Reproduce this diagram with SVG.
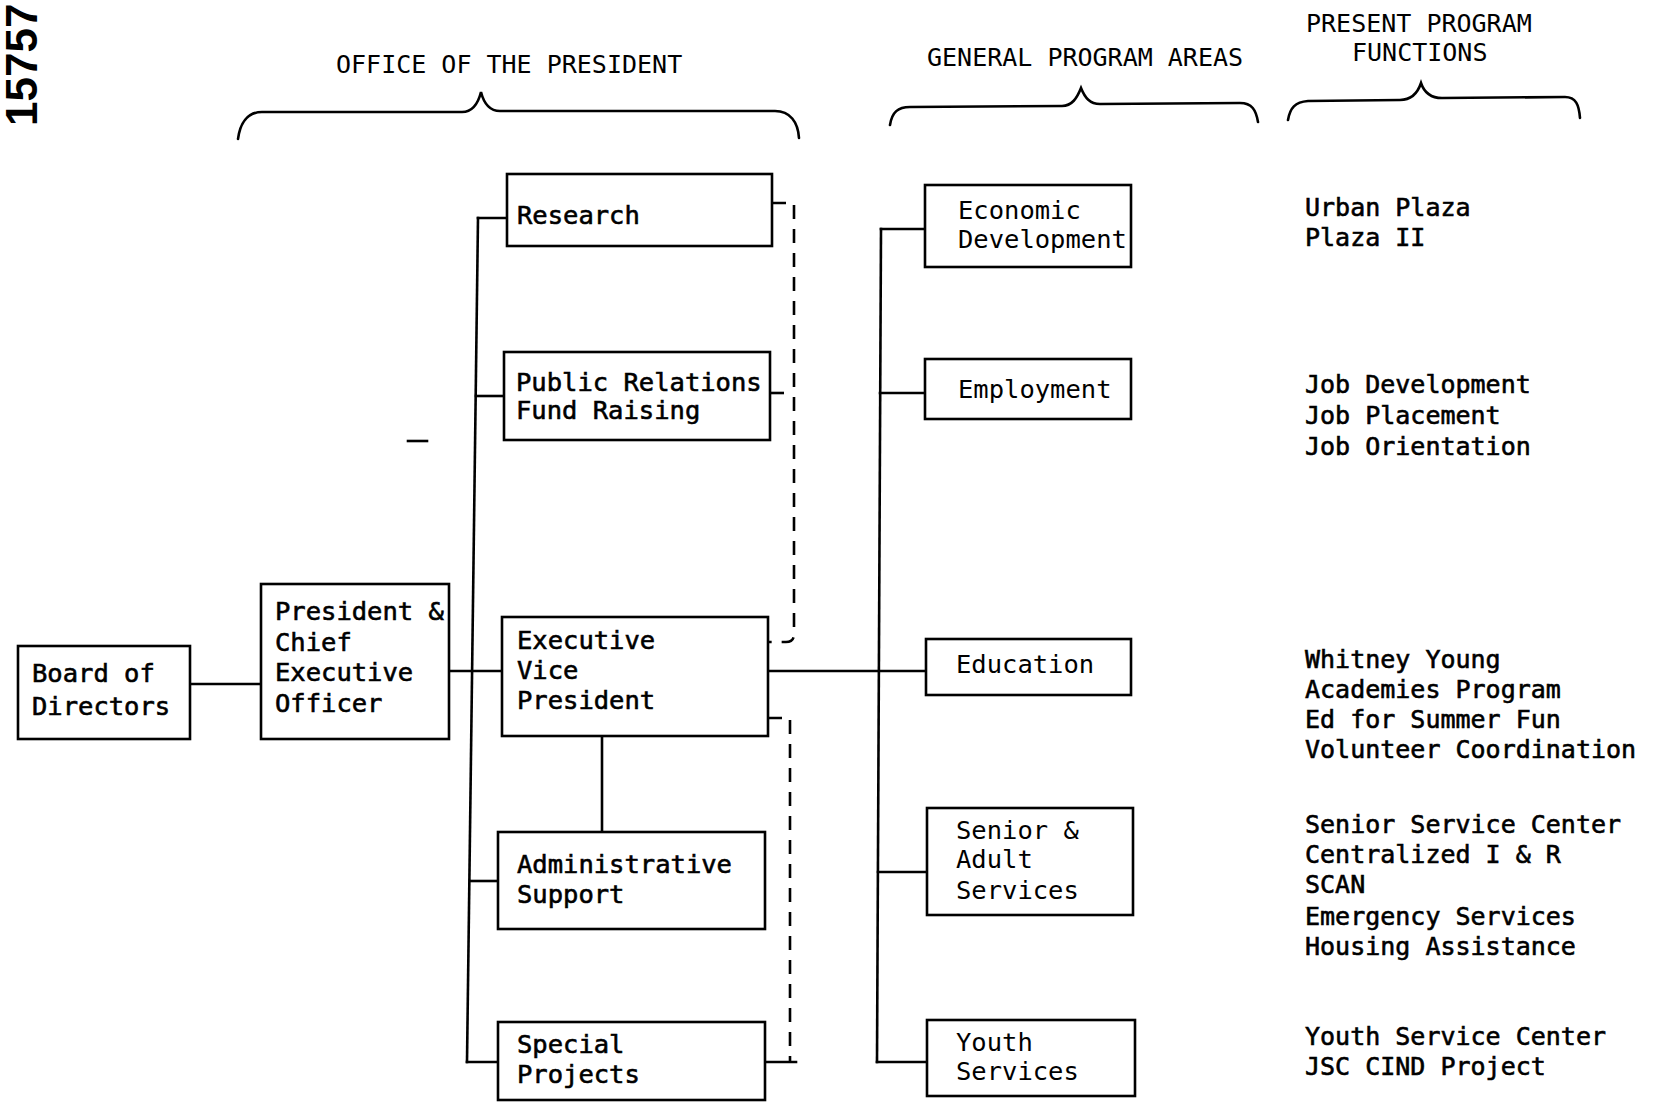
<svg xmlns="http://www.w3.org/2000/svg" width="1656" height="1106" viewBox="0 0 1656 1106">
<style>
.box{fill:#fff;stroke:#000;stroke-width:2.6}
.ln{fill:none;stroke:#000;stroke-width:2.6;stroke-linecap:square}
.ds{fill:none;stroke:#000;stroke-width:2.6;stroke-dasharray:14 10}
.br{fill:none;stroke:#000;stroke-width:2.6;stroke-linecap:round}
.b{font-family:"DejaVu Sans Mono","Liberation Mono",monospace;font-size:25.5px;fill:#000;stroke:#000;stroke-width:0.6}
.f{font-family:"DejaVu Sans Mono","Liberation Mono",monospace;font-size:25px;fill:#000;stroke:#000;stroke-width:0.6}
.l{font-family:"DejaVu Sans Mono","Liberation Mono",monospace;font-size:25.5px;fill:#000}
.h{font-family:"DejaVu Sans Mono","Liberation Mono",monospace;font-size:25px;fill:#000}
</style>
<rect width="1656" height="1106" fill="#fff"/>
<text transform="translate(37,126) rotate(-90)" font-family="Liberation Sans, sans-serif" font-weight="bold" font-size="44" fill="#000">15757</text>

<g id="headers">
<text class="h" x="336" y="73">OFFICE OF THE PRESIDENT</text>
<text class="h" x="927" y="66">GENERAL PROGRAM AREAS</text>
<text class="h" x="1306" y="32">PRESENT PROGRAM</text>
<text class="h" x="1352" y="61">FUNCTIONS</text>
<path class="br" d="M238,139 C240,124 247,112 262,112 L462,112 C472,112 478,104 481,92 C484,104 490,111 500,111 L775,111 C790,111 798,122 799,138"/>
<path class="br" d="M890,125 C892,112 898,107 910,107 L1062,106 C1072,106 1077,98 1081,88 C1085,98 1090,104 1100,104 L1240,103 C1252,103 1256,110 1258,122"/>
<path class="br" d="M1288,120 C1290,108 1295,102 1308,101 L1400,100 C1412,100 1418,92 1421,83 C1424,92 1430,98 1442,98 L1565,97 C1576,97 1579,105 1580,118"/>
</g>

<g id="connectors">
<line class="ln" x1="190" y1="684" x2="261" y2="684"/>
<line class="ln" x1="449" y1="671" x2="502" y2="671"/>
<line class="ln" x1="478" y1="218" x2="467" y2="1062"/>
<line class="ln" x1="478" y1="218" x2="507" y2="218"/>
<line class="ln" x1="476" y1="396" x2="504" y2="396"/>
<line class="ln" x1="470" y1="881" x2="498" y2="881"/>
<line class="ln" x1="467" y1="1062" x2="498" y2="1062"/>
<line class="ln" x1="602" y1="736" x2="602" y2="832"/>
<line class="ln" x1="768" y1="671" x2="926" y2="671"/>
<line class="ln" x1="881" y1="229" x2="877" y2="1062"/>
<line class="ln" x1="881" y1="229" x2="925" y2="229"/>
<line class="ln" x1="880" y1="393" x2="925" y2="393"/>
<line class="ln" x1="878" y1="872" x2="927" y2="872"/>
<line class="ln" x1="877" y1="1062" x2="927" y2="1062"/>
<path class="ds" d="M772,203 L794,203 L794,634 Q794,642 786,642 L768,642"/>
<line class="ds" x1="770" y1="393" x2="794" y2="393"/>
<path class="ds" d="M768,718 L790,718 L790,1062"/>
<line class="ln" x1="767" y1="1062" x2="796" y2="1062"/>
<line class="ln" x1="408" y1="441" x2="427" y2="441"/>
</g>

<g id="board">
<rect class="box" x="18" y="646" width="172" height="93"/>
<text class="b" x="32" y="682">Board of</text>
<text class="b" x="32" y="715">Directors</text>
</g>
<g id="president">
<rect class="box" x="261" y="584" width="188" height="155"/>
<text class="b" x="275" y="620">President &amp;</text>
<text class="b" x="275" y="651">Chief</text>
<text class="b" x="275" y="681">Executive</text>
<text class="b" x="275" y="712">Officer</text>
</g>
<g id="research">
<rect class="box" x="507" y="174" width="265" height="72"/>
<text class="b" x="517" y="224">Research</text>
</g>
<g id="public-relations">
<rect class="box" x="504" y="352" width="266" height="88"/>
<text class="b" x="516" y="391">Public Relations</text>
<text class="b" x="516" y="419">Fund Raising</text>
</g>
<g id="evp">
<rect class="box" x="502" y="617" width="266" height="119"/>
<text class="b" x="517" y="649">Executive</text>
<text class="b" x="517" y="679">Vice</text>
<text class="b" x="517" y="709">President</text>
</g>
<g id="admin">
<rect class="box" x="498" y="832" width="267" height="97"/>
<text class="b" x="517" y="873">Administrative</text>
<text class="b" x="517" y="903">Support</text>
</g>
<g id="special">
<rect class="box" x="498" y="1022" width="267" height="78"/>
<text class="b" x="517" y="1053">Special</text>
<text class="b" x="517" y="1083">Projects</text>
</g>

<g id="economic">
<rect class="box" x="925" y="185" width="206" height="82"/>
<text class="l" x="958" y="219">Economic</text>
<text class="l" x="958" y="248">Development</text>
</g>
<g id="employment">
<rect class="box" x="925" y="359" width="206" height="60"/>
<text class="l" x="958" y="398">Employment</text>
</g>
<g id="education">
<rect class="box" x="926" y="639" width="205" height="56"/>
<text class="l" x="956" y="673">Education</text>
</g>
<g id="senior">
<rect class="box" x="927" y="808" width="206" height="107"/>
<text class="l" x="956" y="839">Senior &amp;</text>
<text class="l" x="956" y="868">Adult</text>
<text class="l" x="956" y="899">Services</text>
</g>
<g id="youth">
<rect class="box" x="927" y="1020" width="208" height="76"/>
<text class="l" x="956" y="1051">Youth</text>
<text class="l" x="956" y="1080">Services</text>
</g>

<g id="functions">
<text class="f" x="1305" y="216">Urban Plaza</text>
<text class="f" x="1305" y="246">Plaza II</text>
<text class="f" x="1305" y="393">Job Development</text>
<text class="f" x="1305" y="424">Job Placement</text>
<text class="f" x="1305" y="455">Job Orientation</text>
<text class="f" x="1305" y="668">Whitney Young</text>
<text class="f" x="1305" y="698">Academies Program</text>
<text class="f" x="1305" y="728">Ed for Summer Fun</text>
<text class="f" x="1305" y="758">Volunteer Coordination</text>
<text class="f" x="1305" y="833">Senior Service Center</text>
<text class="f" x="1305" y="863">Centralized I &amp; R</text>
<text class="f" x="1305" y="893">SCAN</text>
<text class="f" x="1305" y="925">Emergency Services</text>
<text class="f" x="1305" y="955">Housing Assistance</text>
<text class="f" x="1305" y="1045">Youth Service Center</text>
<text class="f" x="1305" y="1075">JSC CIND Project</text>
</g>
</svg>
